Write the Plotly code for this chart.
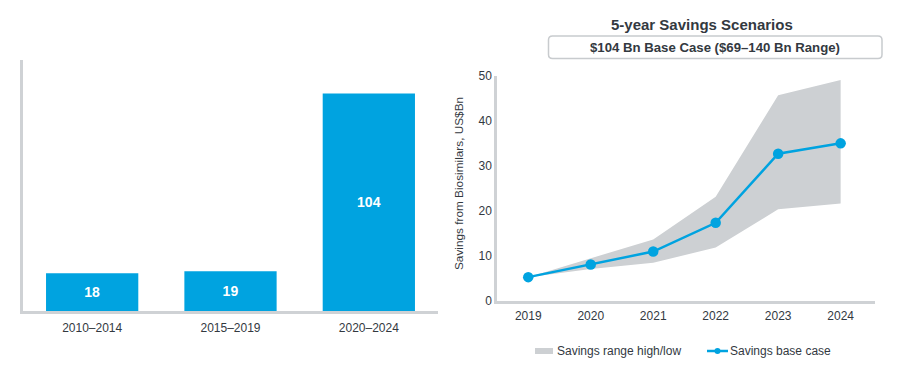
import plotly.graph_objects as go

# ---- data ----
periods = ["2010–2014", "2015–2019", "2020–2024"]
period_savings = [18, 19, 104]

years = [2019, 2020, 2021, 2022, 2023, 2024]
base_case = [5.2, 8.0, 10.9, 17.3, 32.7, 35.0]
range_high = [5.2, 9.4, 13.6, 23.1, 45.7, 49.1]
range_low = [5.2, 7.0, 8.4, 11.8, 20.3, 21.6]

legend_labels = ["Savings range high/low", "Savings base case"]

BLUE = "#00a3e0"
GRAY_FILL = "#cdd0d3"
AXIS = "#cfd2d5"
TXT = "#33393f"
FONT = "Liberation Sans, Arial, sans-serif"

W, H = 900, 372

def px_x(v):
    return v / W

def px_y(v):
    return 1 - v / H

fig = go.Figure()

# left bar chart
fig.add_trace(go.Bar(
    x=periods, y=period_savings, xaxis="x", yaxis="y",
    marker=dict(color=BLUE, line=dict(width=0)),
    width=0.667,
    text=[str(v) for v in period_savings],
    textposition="inside", insidetextanchor="middle",
    textfont=dict(color="white", size=14, family=FONT, weight="bold"),
    showlegend=False, hoverinfo="skip",
))

# right: range band
fig.add_trace(go.Scatter(
    x=years, y=range_low, xaxis="x2", yaxis="y2",
    mode="lines", line=dict(width=0, color=GRAY_FILL),
    showlegend=False, hoverinfo="skip",
))
fig.add_trace(go.Scatter(
    x=years, y=range_high, xaxis="x2", yaxis="y2",
    mode="lines", line=dict(width=0, color=GRAY_FILL),
    fill="tonexty", fillcolor=GRAY_FILL,
    name=legend_labels[0], showlegend=False,
))
fig.add_trace(go.Scatter(
    x=years, y=base_case, xaxis="x2", yaxis="y2",
    mode="lines+markers", line=dict(width=2.5, color=BLUE),
    marker=dict(size=10.5, color=BLUE),
    name=legend_labels[1], showlegend=False,
))

# rounded box for subtitle
bx0, bx1, by0, by1, r = 548.5, 882, 36, 58.5, 4
def P(x, y):
    return f"{px_x(x):.5f},{px_y(y):.5f}"
path = (
    f"M {P(bx0 + r, by0)} L {P(bx1 - r, by0)} Q {P(bx1, by0)} {P(bx1, by0 + r)} "
    f"L {P(bx1, by1 - r)} Q {P(bx1, by1)} {P(bx1 - r, by1)} "
    f"L {P(bx0 + r, by1)} Q {P(bx0, by1)} {P(bx0, by1 - r)} "
    f"L {P(bx0, by0 + r)} Q {P(bx0, by0)} {P(bx0 + r, by0)} Z"
)

# manual legend
LEG_Y = 351
shapes = [
    dict(type="path", path=path, xref="paper", yref="paper",
         line=dict(color="#c8cbce", width=1.5), fillcolor="rgba(0,0,0,0)"),
    dict(type="rect", xref="paper", yref="paper",
         x0=px_x(535), x1=px_x(553), y0=px_y(LEG_Y + 3), y1=px_y(LEG_Y - 3),
         fillcolor=GRAY_FILL, line=dict(width=0)),
    dict(type="line", xref="paper", yref="paper",
         x0=px_x(707), x1=px_x(728), y0=px_y(LEG_Y), y1=px_y(LEG_Y),
         line=dict(color=BLUE, width=2.5)),
    dict(type="circle", xref="paper", yref="paper",
         x0=px_x(714.5), x1=px_x(720.5), y0=px_y(LEG_Y + 3), y1=px_y(LEG_Y - 3),
         fillcolor=BLUE, line=dict(width=0)),
]

annotations = [
    dict(text="<b>5-year Savings Scenarios</b>", x=px_x(702), y=px_y(25),
         xref="paper", yref="paper", showarrow=False, xanchor="center", yanchor="middle",
         font=dict(size=15, color=TXT)),
    dict(text="<b>$104 Bn Base Case ($69–140 Bn Range)</b>", x=px_x(715), y=px_y(47.5),
         xref="paper", yref="paper", showarrow=False, xanchor="center", yanchor="middle",
         font=dict(size=13.2, color=TXT)),
    dict(text="Savings from Biosimilars, US$Bn", x=px_x(459), y=px_y(184),
         xref="paper", yref="paper", showarrow=False, xanchor="center", yanchor="middle",
         textangle=-90, font=dict(size=11.8, color=TXT)),
    dict(text=legend_labels[0], x=px_x(555), y=px_y(LEG_Y),
         xref="paper", yref="paper", showarrow=False, xanchor="left", yanchor="middle",
         font=dict(size=12, color=TXT)),
    dict(text=legend_labels[1], x=px_x(727.5), y=px_y(LEG_Y),
         xref="paper", yref="paper", showarrow=False, xanchor="left", yanchor="middle",
         font=dict(size=12, color=TXT)),
]

fig.update_layout(
    width=W, height=H,
    margin=dict(l=0, r=0, t=0, b=0, autoexpand=False),
    paper_bgcolor="white", plot_bgcolor="white",
    font=dict(family=FONT, color=TXT, size=12),
    bargap=0.333,
    showlegend=False,
    xaxis=dict(
        domain=[px_x(23), px_x(438)], anchor="y", automargin=False,
        showgrid=False, showline=True, linecolor=AXIS, linewidth=2.5,
        ticks="", tickfont=dict(size=12, color=TXT), ticklabelstandoff=4,
        range=[-0.5, 2.5], fixedrange=True,
    ),
    yaxis=dict(
        domain=[px_y(311), px_y(60)], anchor="x", automargin=False,
        range=[0, 120], showgrid=False, showline=True, linecolor=AXIS, linewidth=2.5,
        showticklabels=False, ticks="", zeroline=False,
    ),
    xaxis2=dict(
        domain=[px_x(497), px_x(875)], anchor="y2", automargin=False,
        range=[2018.5, 2024.55], tickvals=years, ticktext=[str(y) for y in years],
        showgrid=False, showline=True, linecolor=AXIS, linewidth=2.5,
        ticks="", tickfont=dict(size=12, color=TXT), zeroline=False, ticklabelstandoff=2,
    ),
    yaxis2=dict(
        domain=[px_y(300.5), px_y(76)], anchor="x2", automargin=False,
        range=[0, 50], dtick=10,
        showgrid=False, showline=True, linecolor=AXIS, linewidth=2.5,
        ticks="", tickfont=dict(size=12, color=TXT), zeroline=False,
    ),
    shapes=shapes,
    annotations=annotations,
)

fig.write_html(
    "out.html",
    config={"displayModeBar": False},
    post_script="document.body.style.margin='0';document.body.style.overflow='hidden';",
)
